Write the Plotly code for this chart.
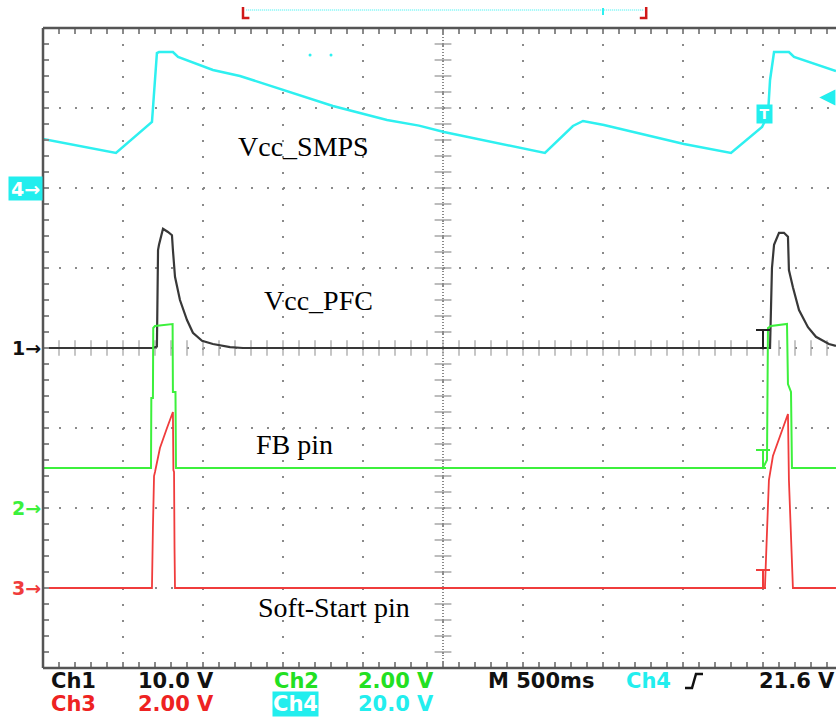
import numpy as np
import plotly.graph_objects as go

# ---------------- data (time in ms, values in volts) ----------------
# Ch4 : Vcc_SMPS (20 V/div)
ch4_t = [0, 456, 681, 688, 700, 712, 725, 812, 844, 1062, 1231, 1500, 1812, 2150, 2350,
         2506, 3137, 3312, 3375, 3506, 4006, 4300, 4494, 4531, 4544, 4569, 4662, 4694, 4956]
ch4_v = [12.25, 8.75, 16.5, 20, 27.75, 33.75, 34, 34, 32.75, 29.5, 28, 24.5, 20.5, 17, 15.6,
         14, 8.75, 15.5, 16.75, 15.75, 11, 8.75, 15.25, 18.25, 27, 34, 34, 32.75, 29.25]
ch4_glitch_t = [1669, 1800]
ch4_glitch_v = [33.25, 33.25]

# Ch1 : Vcc_PFC (10 V/div)
ch1_t = [0, 687, 712, 719, 725, 750, 781, 806, 812, 825, 856, 900, 937, 994, 1062, 1169, 1250,
         4544, 4556, 4569, 4600, 4631, 4656, 4662, 4687, 4725, 4781, 4831, 4912, 4956]
ch1_v = [0, 0, 0.2, 12.25, 12.9, 14.9, 14.5, 14.1, 12.25, 8.9, 6, 3.5, 1.9, 0.9, 0.5, 0.1, 0,
         0, 10, 12.9, 14.4, 14.4, 13.9, 9.75, 7.6, 4.75, 2.6, 1.4, 0.5, 0.25]

# Ch2 : FB pin (2 V/div)
ch2_t = [0, 675, 677, 687, 689, 700, 810, 812, 828, 831,
         4500, 4525, 4531, 4550, 4650, 4656, 4675, 4681, 4956]
ch2_v = [1.0, 1.0, 2.75, 2.75, 4.5, 4.55, 4.6, 2.9, 2.9, 1.0,
         1.0, 1.2, 4.5, 4.55, 4.6, 3.1, 2.9, 1.0, 1.0]

# Ch3 : Soft-Start pin (2 V/div)
ch3_t = [0, 681, 687, 694, 700, 731, 775, 806, 812, 815, 819, 822, 825,
         4512, 4525, 4537, 4562, 4656, 4662, 4675, 4687, 4956]
ch3_v = [0, 0, 1.5, 2.8, 2.9, 3.5, 4.0, 4.3, 4.4, 2.95, 2.9, 1.0, 0,
         0, 1.5, 2.7, 3.3, 4.35, 2.7, 1.5, 0, 0]

# scope settings
volts_per_div = {"ch1": 10.0, "ch2": 2.0, "ch3": 2.0, "ch4": 20.0}
offset_div = {"ch1": 0, "ch2": -2, "ch3": -3, "ch4": 2}
ms_per_div = 500
trigger_ms = 4500
trigger_level = 21.6

# ---------------- geometry ----------------
W, H = 836, 717
ML, MT, MB = 43, 28, 49
PW = W - ML
PH = H - MT - MB
DIV_PX = 80
X_MAX = PW / DIV_PX * ms_per_div


def pxx(xp):
    return (xp - ML) / PW


def pxy(yp):
    return (MT + PH - yp) / PH


def vrange(ch):
    s, o = volts_per_div[ch], offset_div[ch]
    return [(-4 - o) * s, (4 - o) * s]


BLACK = "#383838"
GREEN = "#3CF03C"
RED = "#F03C3C"
CYAN = "#2EF0F0"
GRIDC = "#8a8a8a"

fig = go.Figure()

# center cross ticks
hx = np.arange(100, X_MAX, 100)
fig.add_trace(go.Scatter(x=hx, y=np.zeros(len(hx)), mode="markers", yaxis="y",
                         marker=dict(symbol="line-ns", size=11, line=dict(color="#a0a0a0", width=1.2)),
                         hoverinfo="skip"))
cy = np.arange(-38, 40, 2)
fig.add_trace(go.Scatter(x=[2500] * len(cy), y=cy, mode="markers", yaxis="y",
                         marker=dict(symbol="line-ew", size=12, line=dict(color="#909090", width=1.2)),
                         hoverinfo="skip"))

fig.add_trace(go.Scatter(x=ch4_t, y=ch4_v, yaxis="y4", mode="lines",
                         line=dict(color=CYAN, width=2.5), hoverinfo="skip"))
fig.add_trace(go.Scatter(x=ch4_glitch_t, y=ch4_glitch_v, yaxis="y4", mode="markers",
                         marker=dict(color=CYAN, size=3), hoverinfo="skip"))
fig.add_trace(go.Scatter(x=ch2_t, y=ch2_v, yaxis="y2", mode="lines",
                         line=dict(color=GREEN, width=2), hoverinfo="skip"))
fig.add_trace(go.Scatter(x=ch3_t, y=ch3_v, yaxis="y3", mode="lines",
                         line=dict(color=RED, width=1.8), hoverinfo="skip"))
fig.add_trace(go.Scatter(x=ch1_t, y=ch1_v, yaxis="y", mode="lines",
                         line=dict(color=BLACK, width=2.2), hoverinfo="skip"))

tick_style = dict(ticks="inside", ticklen=6, tickcolor="#8a8a8a", tickwidth=1.5)
grid = dict(showgrid=True, gridcolor=GRIDC, griddash="2px,14px", gridwidth=2,
            zeroline=False, showticklabels=False, showline=False)

fig.update_layout(
    width=W, height=H, margin=dict(l=ML, r=0, t=MT, b=MB, pad=0, autoexpand=False),
    paper_bgcolor="white", plot_bgcolor="white", showlegend=False,
    xaxis=dict(range=[0, X_MAX], dtick=ms_per_div, tick0=0, mirror="ticks",
               minor=dict(dtick=ms_per_div / 5, showgrid=False, **tick_style),
               **tick_style, **grid),
    yaxis=dict(range=vrange("ch1"), dtick=volts_per_div["ch1"], tick0=0,
               minor=dict(dtick=volts_per_div["ch1"] / 5, showgrid=False, **tick_style),
               **tick_style, **grid),
    yaxis2=dict(range=vrange("ch2"), overlaying="y", visible=False),
    yaxis3=dict(range=vrange("ch3"), overlaying="y", visible=False),
    yaxis4=dict(range=vrange("ch4"), overlaying="y", visible=False),
)

shapes = []
# frame (left, top, bottom)
for s in [dict(x0=0, x1=0, y0=0, y1=1), dict(x0=0, x1=1, y0=1, y1=1), dict(x0=0, x1=1, y0=0, y1=0)]:
    shapes.append(dict(type="line", xref="paper", yref="paper", line=dict(color="#555555", width=2.5), **s))
# center vertical dense dotted
shapes.append(dict(type="line", xref="x", yref="paper", x0=2500, x1=2500, y0=0, y1=1,
                   line=dict(color="#8a8a8a", width=2, dash="1px,2px"), layer="below"))
# record view bar at top
shapes.append(dict(type="line", xref="x", yref="paper", x0=1270, x1=3755, y0=pxy(10), y1=pxy(10),
                   line=dict(color=CYAN, width=1, dash="1px,1px")))
shapes.append(dict(type="line", xref="x", yref="paper", x0=3500, x1=3500, y0=pxy(8), y1=pxy(15),
                   line=dict(color=CYAN, width=2)))
shapes.append(dict(type="path", xref="x", yref="paper",
                   path=f"M1250,{pxy(7)} L1250,{pxy(18)} L1290,{pxy(18)}",
                   line=dict(color="#d01818", width=2.5)))
shapes.append(dict(type="path", xref="x", yref="paper",
                   path=f"M3770,{pxy(7)} L3770,{pxy(18)} L3730,{pxy(18)}",
                   line=dict(color="#d01818", width=2.5)))
# trigger "T" markers, sitting on each trace at the trigger time
for yref, col, tt, vv in [("y", "#222222", ch1_t, ch1_v), ("y2", GREEN, ch2_t, ch2_v),
                          ("y3", RED, ch3_t, ch3_v)]:
    shapes.append(dict(type="path", xref="x", yref=yref, xsizemode="pixel", ysizemode="pixel",
                       xanchor=trigger_ms, yanchor=float(np.interp(trigger_ms, tt, vv)),
                       path="M-7,18 L7,18 M0,18 L0,0 M-3,0 L3,0",
                       line=dict(color=col, width=2)))
# trigger slope symbol
shapes.append(dict(type="path", xref="paper", yref="paper",
                   path=f"M{pxx(685)},{pxy(688)} L{pxx(692)},{pxy(688)} L{pxx(696)},{pxy(674)} L{pxx(703)},{pxy(674)}",
                   line=dict(color="#111111", width=2.5)))
fig.update_layout(shapes=shapes)

ann = []
serif = dict(family="Liberation Serif, Times New Roman, serif", size=28, color="black")
for txt, t, v in [("Vcc_SMPS", 1631, 25.25), ("Vcc_PFC", 1719, 6.0),
                  ("FB pin", 1572, -12.1), ("Soft-Start pin", 1816, -32.4)]:
    ann.append(dict(text=txt, x=t, y=v, xref="x", yref="y", showarrow=False, font=serif,
                    xanchor="center", yanchor="middle"))

# channel markers on left
mk = dict(family="DejaVu Sans", size=19)
ann.append(dict(text="<b>4→</b>", x=0, y=0, xref="paper", yref="y4", xanchor="right", yanchor="middle",
                showarrow=False, font=dict(color="white", **mk), bgcolor="#22EEEE", width=33, height=23,
                borderpad=0))
ann.append(dict(text="<b>1→</b>", x=0, y=0, xref="paper", yref="y", xanchor="right", yanchor="middle",
                showarrow=False, font=dict(color="#111111", **mk)))
ann.append(dict(text="<b>2→</b>", x=0, y=0, xref="paper", yref="y2", xanchor="right", yanchor="middle",
                showarrow=False, font=dict(color=GREEN, **mk)))
ann.append(dict(text="<b>3→</b>", x=0, y=0, xref="paper", yref="y3", xanchor="right", yanchor="middle",
                showarrow=False, font=dict(color=RED, **mk)))

# cyan trigger box on Ch4 and level arrow
ann.append(dict(text="<b>T</b>", x=trigger_ms, y=18.5, xref="x", yref="y4", xshift=1, showarrow=False,
                font=dict(family="DejaVu Sans", size=14, color="white"), bgcolor="#22EEEE",
                width=15, height=18, borderpad=0))
ann.append(dict(text="◀", x=1, y=23, xref="paper", yref="y4", xanchor="right", yanchor="middle",
                xshift=2, showarrow=False, font=dict(family="DejaVu Sans", size=21, color="#22EEEE")))

# bottom readout
bf = dict(family="DejaVu Sans", size=21)
row1 = pxy(681)
row2 = pxy(704)
readout = [
    ("Ch1", 50, row1, "#111111"), ("10.0 V", 137, row1, "#111111"),
    ("Ch2", 273, row1, "#22E022"), ("2.00 V", 357, row1, "#22E022"),
    ("M 500ms", 487, row1, "#111111"), ("Ch4", 625, row1, "#22EEEE"),
    ("Ch3", 50, row2, "#EE2222"), ("2.00 V", 137, row2, "#EE2222"),
    ("20.0 V", 357, row2, "#22EEEE"),
]
for txt, xp, yy, col in readout:
    ann.append(dict(text=f"<b>{txt}</b>", x=pxx(xp), y=yy, xref="paper", yref="paper", xanchor="left",
                    yanchor="middle", showarrow=False, font=dict(color=col, **bf), borderpad=0))
ann.append(dict(text=f"<b>{trigger_level} V</b>", x=1, y=row1, xref="paper", yref="paper", xanchor="right",
                yanchor="middle", showarrow=False, font=dict(color="#111111", **bf), borderpad=0))
ann.append(dict(text="<b>Ch4</b>", x=pxx(272), y=row2, xref="paper", yref="paper", xanchor="left",
                yanchor="middle", showarrow=False, font=dict(color="white", **bf), bgcolor="#22EEEE",
                borderpad=0))
fig.update_layout(annotations=ann)

fig.write_html("out.html", config={"displayModeBar": False},
               post_script="document.body.style.margin='0px';document.body.style.overflow='hidden';")
